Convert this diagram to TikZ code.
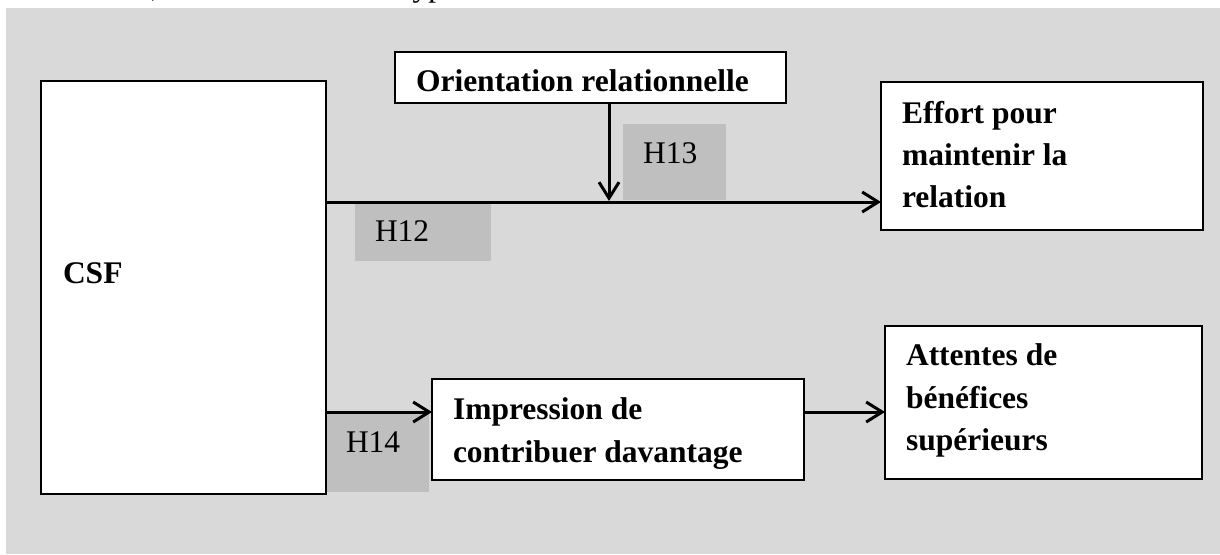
\documentclass[tikz,border=0pt]{standalone}
\usepackage{fontspec}
\setmainfont{Liberation Serif}
\usetikzlibrary{arrows.meta,fit}
\definecolor{bgray}{HTML}{D9D9D9}
\definecolor{hgray}{HTML}{BFBFBF}
\begin{document}
\begin{tikzpicture}[x=0.5pt,y=-0.5pt,
  every node/.style={inner sep=0pt, outer sep=0pt},
  box/.style={draw=black, line width=0.9pt, fill=white, rectangle},
  hbox/.style={fill=hgray, rectangle},
  lbl/.style={anchor=base west, font=\fontsize{15.75}{21}\selectfont\bfseries},
  hyp/.style={anchor=base west, font=\fontsize{15.75}{21}\selectfont},
  arr/.style={line width=1.5pt, -{Straight Barb[length=8pt,width=10pt]}}]
\useasboundingbox (0,0) rectangle (1220,554);
\begin{scope}
  \clip (0,0) rectangle (1220,8);
  \node[hyp] (intro) at (60,-4) {résumé, nous testerons les hypothèses suivantes};
\end{scope}
\fill[bgray] (6,8) rectangle (1220,554);
% hypothesis label boxes
\node[hbox, fit={(355,204) (491,261)}] (h12) {};
\node[hbox, fit={(623,124) (726,200)}] (h13) {};
\node[hbox, fit={(327,413) (429,492)}] (h14) {};
\node[hyp] (t12) at (375,241) {H12};
\node[hyp] (t13) at (643,163) {H13};
\node[hyp] (t14) at (346,452) {H14};
% boxes
\node[box, fit={(41,81) (326,494)}] (csf) {};
\node[box, fit={(395,52) (786,103)}] (ori) {};
\node[box, fit={(881,82) (1203,230)}] (eff) {};
\node[box, fit={(432,379) (804,480)}] (imp) {};
\node[box, fit={(885,326) (1202,479)}] (att) {};
% texts
\node[lbl] (tcsf) at (63,283) {CSF};
\node[lbl] (tori) at (416,91) {Orientation relationnelle};
\node[lbl] (teff1) at (902,123) {Effort pour};
\node[lbl] (teff2) at (902,165) {maintenir la};
\node[lbl] (teff3) at (902,207) {relation};
\node[lbl] (timp1) at (453,419) {Impression de};
\node[lbl] (timp2) at (453,462) {contribuer davantage};
\node[lbl] (tatt1) at (906,365) {Attentes de};
\node[lbl] (tatt2) at (906,408) {bénéfices};
\node[lbl] (tatt3) at (906,450) {supérieurs};
% connectors
\coordinate (yh) at (0,202);
\coordinate (mj) at (609,201);
\coordinate (yl) at (0,412);
\draw[arr] (csf.east |- yh) -- (eff.west |- yh);
\draw[arr] (ori.south -| mj) -- (mj);
\draw[arr] (csf.east |- yl) -- (imp.west |- yl);
\draw[arr] (imp.east |- yl) -- (att.west |- yl);
\end{tikzpicture}
\end{document}
